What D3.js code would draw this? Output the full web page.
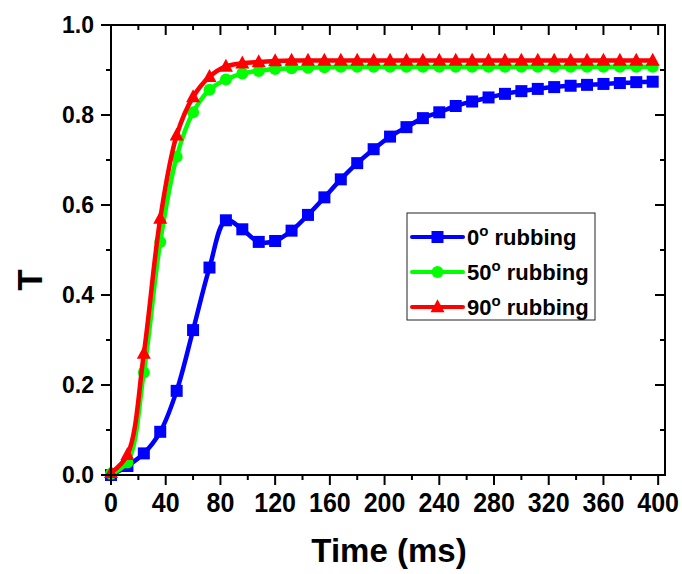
<!DOCTYPE html>
<html>
<head>
<meta charset="utf-8">
<script src="https://cdn.jsdelivr.net/npm/d3@7"></script>
<style>
  html, body { margin: 0; padding: 0; background: #fff; }
  svg { display: block; }
  text { font-family: "Liberation Sans", Arial, sans-serif; font-weight: bold; fill: #000; }
</style>
</head>
<body>
<svg id="chart" width="682" height="574"></svg>
<script>
// ---- data ----
const time = [0, 12, 24, 36, 48, 60, 72, 84, 96, 108, 120, 132, 144, 156, 168, 180, 192, 204,
              216, 228, 240, 252, 264, 276, 288, 300, 312, 324, 336, 348, 360, 372, 384, 396];
const rub0 = [0.000, 0.020, 0.048, 0.096, 0.187, 0.322, 0.461, 0.566, 0.546, 0.518, 0.520, 0.543,
              0.578, 0.617, 0.657, 0.693, 0.724, 0.752, 0.773, 0.793, 0.806, 0.820, 0.830, 0.839,
              0.847, 0.853, 0.858, 0.862, 0.865, 0.867, 0.869, 0.871, 0.873, 0.874];
const rub50 = [0.003, 0.028, 0.228, 0.518, 0.707, 0.806, 0.856, 0.879, 0.892, 0.898, 0.902, 0.904,
               0.905, 0.906, 0.907, 0.907, 0.907, 0.907, 0.907, 0.907, 0.907, 0.907, 0.907, 0.907,
               0.907, 0.907, 0.907, 0.907, 0.907, 0.907, 0.907, 0.907, 0.907, 0.907];
const rub90 = [0.005, 0.045, 0.270, 0.570, 0.755, 0.840, 0.885, 0.908, 0.915, 0.918, 0.920, 0.921,
               0.921, 0.921, 0.921, 0.921, 0.921, 0.921, 0.921, 0.921, 0.921, 0.921, 0.921, 0.921,
               0.921, 0.921, 0.921, 0.921, 0.921, 0.921, 0.921, 0.921, 0.921, 0.921];
const seriesNames = ["0", "50", "90"];
const seriesColors = ["#0000ff", "#00ff00", "#ff0000"];
const seriesMarkers = ["square", "circle", "triangle"];
const xTicks = [0, 40, 80, 120, 160, 200, 240, 280, 320, 360, 400];
const yTicks = [0.0, 0.2, 0.4, 0.6, 0.8, 1.0];
const xLabel = "Time (ms)";
const yLabel = "T";

// ---- layout ----
const svg = d3.select("#chart");
const L = 111, R = 665, T = 25, B = 475;
const x = d3.scaleLinear().domain([0, 405]).range([L, R]);
const y = d3.scaleLinear().domain([0, 1]).range([B, T]);

const series = [rub0, rub50, rub90].map((vals, i) => ({
  name: seriesNames[i], color: seriesColors[i], marker: seriesMarkers[i],
  pts: time.map((t, j) => [t, vals[j]])
}));

const g = svg.append("g");

const line = d3.line().x(d => x(d[0])).y(d => y(d[1])).curve(d3.curveCatmullRom.alpha(0.5));

function drawMarker(sel, type, color, cx, cy) {
  if (type === "square") {
    sel.append("rect").attr("x", cx - 6).attr("y", cy - 6).attr("width", 12).attr("height", 12).attr("fill", color);
  } else if (type === "circle") {
    sel.append("circle").attr("cx", cx).attr("cy", cy).attr("r", 6).attr("fill", color);
  } else {
    const s = 7;
    sel.append("path").attr("d", `M${cx},${cy - s * 1.1}L${cx + s},${cy + s * 0.75}L${cx - s},${cy + s * 0.75}Z`).attr("fill", color);
  }
}

series.forEach(s => {
  g.append("path").datum(s.pts).attr("d", line).attr("fill", "none")
    .attr("stroke", s.color).attr("stroke-width", 4.5).attr("stroke-linejoin", "round");
  const mg = g.append("g");
  s.pts.forEach(p => drawMarker(mg, s.marker, s.color, x(p[0]), y(p[1])));
});

// frame
const ax = svg.append("g").attr("stroke", "#000").attr("stroke-width", 2).attr("fill", "none");
ax.append("rect").attr("x", L).attr("y", T).attr("width", R - L).attr("height", B - T);

const xMinor = d3.range(0, 401, 20);
xMinor.forEach(v => {
  const major = v % 40 === 0;
  const len = major ? 10 : 5;
  ax.append("line").attr("x1", x(v)).attr("x2", x(v)).attr("y1", B).attr("y2", B + len);
  ax.append("line").attr("x1", x(v)).attr("x2", x(v)).attr("y1", T).attr("y2", T + len);
});
const yMinor = d3.range(0, 1.0001, 0.1);
yMinor.forEach((v, i) => {
  const major = i % 2 === 0;
  const len = major ? 10 : 5;
  ax.append("line").attr("x1", L).attr("x2", L - len).attr("y1", y(v)).attr("y2", y(v));
  ax.append("line").attr("x1", R).attr("x2", R - len).attr("y1", y(v)).attr("y2", y(v));
});

// tick labels
svg.append("g").selectAll("text").data(xTicks).join("text")
  .attr("transform", d => `translate(${x(d)},512) scale(1,1.12)`).attr("text-anchor", "middle")
  .attr("font-size", 25).text(d => d3.format("d")(d));
svg.append("g").selectAll("text").data(yTicks).join("text")
  .attr("x", 94).attr("y", d => y(d) + 8).attr("text-anchor", "end")
  .attr("font-size", 23).text(d => d3.format(".1f")(d));

// axis titles
svg.append("text").attr("x", 389).attr("y", 562).attr("text-anchor", "middle")
  .attr("font-size", 33).text(xLabel);
svg.append("text").attr("transform", "translate(42,280) rotate(-90)").attr("text-anchor", "middle")
  .attr("font-size", 35).text(yLabel);

// legend
const lg = svg.append("g");
lg.append("rect").attr("x", 407).attr("y", 213).attr("width", 188).attr("height", 107)
  .attr("fill", "#fff").attr("stroke", "#222").attr("stroke-width", 1);
series.forEach((s, i) => {
  const cy = 237 + i * 35;
  lg.append("line").attr("x1", 412).attr("x2", 463).attr("y1", cy).attr("y2", cy)
    .attr("stroke", s.color).attr("stroke-width", 4).attr("stroke-linecap", "round");
  drawMarker(lg, s.marker, s.color, 437.5, cy);
  const t = lg.append("text").attr("x", 467).attr("y", cy + 8).attr("font-size", 22);
  t.append("tspan").text(s.name);
  t.append("tspan").attr("dy", -9).attr("font-size", 15).text("o");
  t.append("tspan").attr("dy", 9).text(" rubbing");
});
</script>
</body>
</html>
